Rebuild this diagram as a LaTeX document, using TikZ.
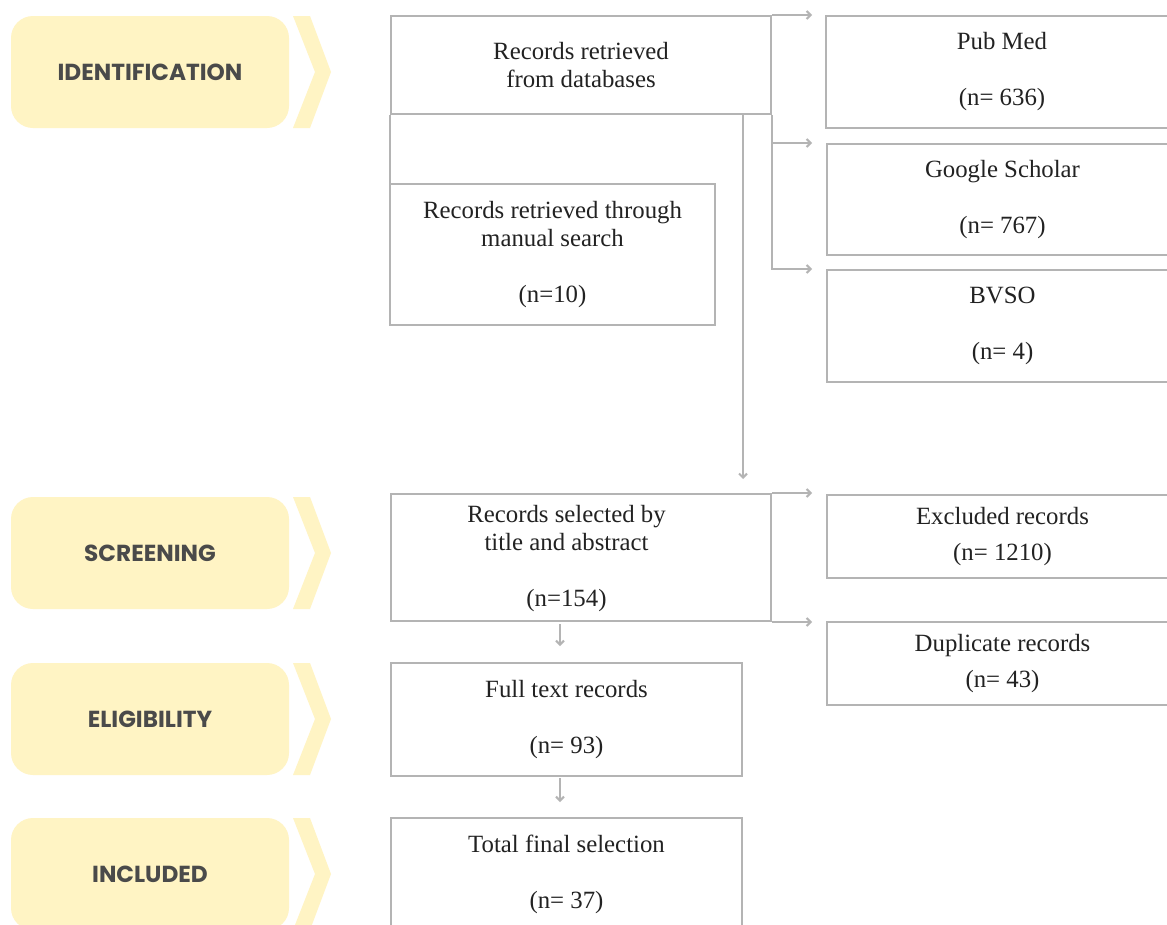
\documentclass[tikz,border=0pt]{standalone}
\usepackage{fontspec}
\setmainfont{Liberation Serif}
\newfontfamily\popfont{Poppins}
\usetikzlibrary{arrows.meta}
\definecolor{phasefill}{HTML}{FFF4C4}
\definecolor{phasetext}{HTML}{4A4A4A}
\definecolor{boxline}{HTML}{B4B4B4}
\definecolor{boxtext}{HTML}{222222}
\begin{document}
\begin{tikzpicture}[x=1pt,y=-1pt,
  phase/.style={fill=phasefill, rounded corners=22pt, minimum width=278pt, minimum height=112pt, text=phasetext, font=\popfont\bfseries\fontsize{23.2}{26}\selectfont, inner sep=0pt},
  rec/.style={draw=boxline, line width=2pt, text=boxtext, align=center, font=\fontsize{24.8}{28}\selectfont, inner sep=0pt},
  txt/.style={text=boxtext, align=center, font=\fontsize{24.8}{28}\selectfont, inner sep=0pt},
  conn/.style={draw=boxline, line width=2pt},
  arr/.style={conn, -{Straight Barb[length=4pt,width=8pt]}},
]
\useasboundingbox (0,0) rectangle (1167,924);
\fill[white] (0,0) rectangle (1167,924);

% phase labels
\node[phase] (idp) at (150,72) {IDENTIFICATION};
\node[phase] (scp) at (150,553) {SCREENING};
\node[phase] (elp) at (150,719) {ELIGIBILITY};
\node[phase] (inp) at (150,874) {INCLUDED};
\foreach \t in {16,497,663,818}{
  \fill[phasefill] (293,\t) -- (310,\t) -- (331,\t+56) -- (310,\t+112) -- (293,\t+112) -- (315,\t+56) -- cycle;
}

% boxes
\node[rec, minimum width=380pt, minimum height=98pt] (db) at (581,65) {Records retrieved\\from databases};
\node[rec, minimum width=325pt, minimum height=141pt] (man) at (552.5,254.5) {Records retrieved through\\manual search\\[28pt](n=10)};
\node[rec, minimum width=352pt, minimum height=112pt] (pub) at (1002,72) {Pub Med\\[28pt](n= 636)};
\node[rec, minimum width=351pt, minimum height=111pt] (gs) at (1002.5,199.5) {Google Scholar\\[28pt](n= 767)};
\node[rec, minimum width=351pt, minimum height=112pt] (bvso) at (1002.5,326) {BVSO\\[28pt](n= 4)};
\node[rec, minimum width=380pt, minimum height=127pt] (scr) at (581,557.5) {};
\node[txt] (scrtxt) at (566.5,559) {Records selected by\\title and abstract\\[28pt](n=154)};
\node[rec, minimum width=351pt, minimum height=83pt] (exc) at (1002.5,536.5) {Excluded records\\[8pt](n= 1210)};
\node[rec, minimum width=351pt, minimum height=83pt] (dup) at (1002.5,663.5) {Duplicate records\\[8pt](n= 43)};
\node[rec, minimum width=351pt, minimum height=113pt] (full) at (566.5,719.5) {Full text records\\[28pt](n= 93)};
\node[rec, minimum width=351pt, minimum height=112pt] (tot) at (566.5,874) {Total final selection\\[28pt](n= 37)};

% connectors
\draw[conn] (db.south west) -- (db.south west |- man.north);
\draw[arr, shorten >=14pt] ([xshift=-29pt]db.south east) -- ([xshift=-29pt]db.south east |- scr.north);
\draw[arr, shorten >=13pt] (db.north east) -- (pub.north west);
\draw[arr, shorten >=14pt] (db.south east) |- (gs.north west);
\draw[arr, shorten >=14pt] (db.south east) |- (bvso.north west);
\draw[arr, shorten >=14pt] (scr.north east) -- (scr.north east -| exc.west);
\draw[arr, shorten >=14pt] (scr.south east) -- (scr.south east -| dup.west);
\draw[arr, shorten <=2pt, shorten >=16pt] ([xshift=-21pt]scr.south) -- ([xshift=-21pt]scr.south |- full.north);
\draw[arr, shorten <=1pt, shorten >=15pt] ([xshift=-6.5pt]full.south) -- ([xshift=-6.5pt]full.south |- tot.north);
\end{tikzpicture}
\end{document}
